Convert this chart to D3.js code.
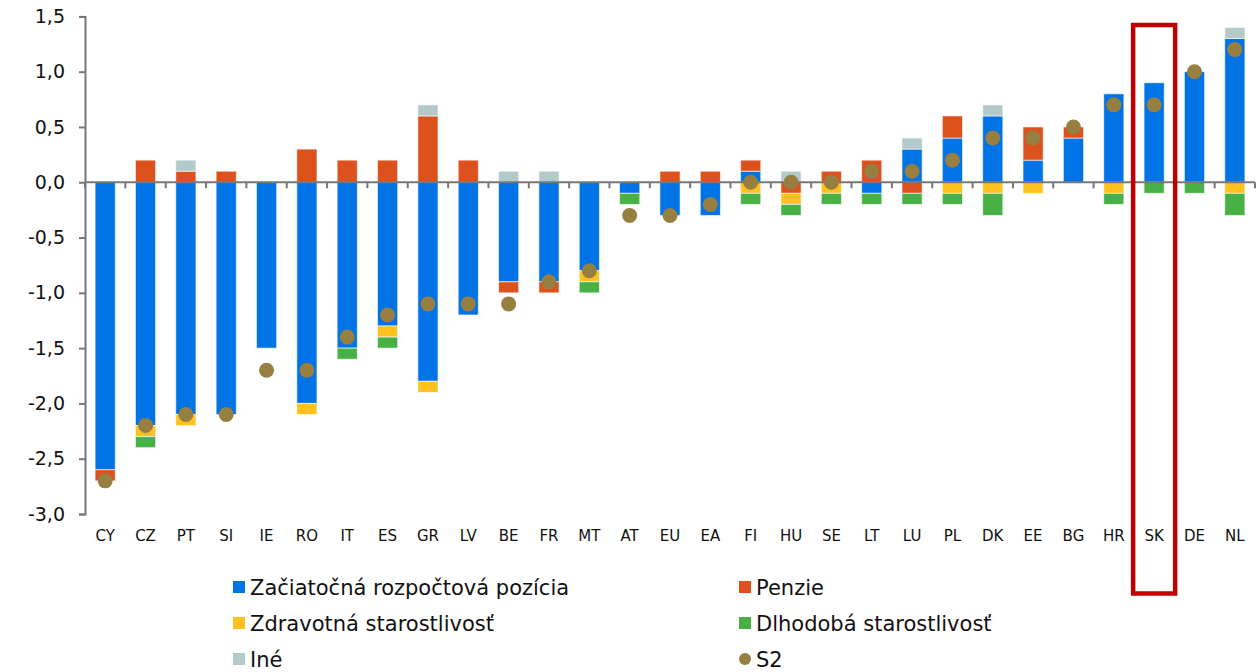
<!DOCTYPE html>
<html><head><meta charset="utf-8">
<script src="https://cdn.jsdelivr.net/npm/d3@7"></script>
<style>body{margin:0;background:#fff;} text{font-family:"DejaVu Sans",Verdana,sans-serif;}</style>
</head><body><svg id="c" width="1258" height="672"></svg>
<script>
const categories = ["CY","CZ","PT","SI","IE","RO","IT","ES","GR","LV","BE","FR","MT","AT","EU","EA","FI","HU","SE","LT","LU","PL","DK","EE","BG","HR","SK","DE","NL"];
const zaciatocna = [-2.6,-2.2,-2.1,-2.1,-1.5,-2.0,-1.5,-1.3,-1.8,-1.2,-0.9,-0.9,-0.8,-0.1,-0.3,-0.3,0.1,0,0,-0.1,0.3,0.4,0.6,0.2,0.4,0.8,0.9,1.0,1.3];
const penzie     = [-0.1,0.2,0.1,0.1,0,0.3,0.2,0.2,0.6,0.2,-0.1,-0.1,0,0,0.1,0.1,0.1,-0.1,0.1,0.2,-0.1,0.2,0,0.3,0.1,0,0,0,0];
const zdravotna  = [0,-0.1,-0.1,0,0,-0.1,0,-0.1,-0.1,0,0,0,-0.1,0,0,0,-0.1,-0.1,-0.1,0,0,-0.1,-0.1,-0.1,0,-0.1,0,0,-0.1];
const dlhodoba   = [0,-0.1,0,0,0,0,-0.1,-0.1,0,0,0,0,-0.1,-0.1,0,0,-0.1,-0.1,-0.1,-0.1,-0.1,-0.1,-0.2,0,0,-0.1,-0.1,-0.1,-0.2];
const ine        = [0,0,0.1,0,0,0,0,0,0.1,0,0.1,0.1,0,0,0,0,0,0.1,0,0,0.1,0,0.1,0,0,0,0,0,0.1];
const s2         = [-2.7,-2.2,-2.1,-2.1,-1.7,-1.7,-1.4,-1.2,-1.1,-1.1,-1.1,-0.9,-0.8,-0.3,-0.3,-0.2,0.0,0.0,0.0,0.1,0.1,0.2,0.4,0.4,0.5,0.7,0.7,1.0,1.2];
const yTicks = [1.5,1.0,0.5,0.0,-0.5,-1.0,-1.5,-2.0,-2.5,-3.0];
const seriesNames = ["Začiatočná rozpočtová pozícia","Penzie","Zdravotná starostlivosť","Dlhodobá starostlivosť","Iné"];
const s2Name = "S2";
const highlight = "SK";

const colors = ["#0073E6","#DD521C","#FFC11D","#47B146","#B3C9CA"];
const s2Color = "#977E41";
const series = [zaciatocna, penzie, zdravotna, dlhodoba, ine];

const svg = d3.select("#c");
const x = d3.scaleBand().domain(categories).range([85,1255]).paddingInner(0.5).paddingOuter(0.25);
const y = d3.scaleLinear().domain([-3,1.5]).range([514,16.4]);

// bars (excel-like stacking: positives up, negatives down)
const g = svg.append("g");
categories.forEach((c,i)=>{
  let pos=0, neg=0;
  series.forEach((s,k)=>{
    const v=s[i]; if(!v) return;
    let y0,y1;
    if(v>0){y0=pos;y1=pos+v;pos=y1;} else {y0=neg;y1=neg+v;neg=y1;}
    g.append("rect").attr("x",x(c)).attr("width",x.bandwidth())
     .attr("y",y(Math.max(y0,y1))).attr("height",Math.abs(y(y0)-y(y1)))
     .attr("fill",colors[k]).attr("stroke","rgba(255,255,255,0.6)").attr("stroke-width",1);
  });
});

// y axis
const ya = svg.append("g").attr("transform","translate(85,0)")
  .call(d3.axisLeft(y).tickValues(yTicks).tickSize(6).tickPadding(14).tickFormat(d=>d3.format(".1f")(d).replace(".",",").replace("−","-")));
ya.select(".domain").attr("stroke","#777").attr("stroke-width",2);
ya.selectAll(".tick line").attr("stroke","#777").attr("stroke-width",2);
ya.selectAll(".tick text").attr("font-size",19).attr("fill","#111").attr("font-family","DejaVu Sans");

// x axis at zero
const xa = svg.append("g").attr("transform",`translate(0,${y(0)})`);
xa.append("line").attr("x1",85).attr("x2",1255).attr("stroke","#777").attr("stroke-width",2);
d3.range(categories.length+1).forEach(k=>{
  const xx = 85 + k*(1170/categories.length);
  xa.append("line").attr("x1",xx).attr("x2",xx).attr("y1",0).attr("y2",6).attr("stroke","#777").attr("stroke-width",2);
});
svg.append("g").selectAll("text").data(categories).join("text")
  .attr("x",d=>x(d)+x.bandwidth()/2).attr("y",541).attr("text-anchor","middle")
  .attr("font-size",15).attr("fill","#111").text(d=>d);

// S2 points
svg.append("g").selectAll("circle").data(categories).join("circle")
  .attr("cx",d=>x(d)+x.bandwidth()/2).attr("cy",(d,i)=>y(s2[i])).attr("r",7.5).attr("fill",s2Color);

// highlight box
const hx = x(highlight)+x.bandwidth()/2;
svg.append("rect").attr("x",hx-21).attr("y",25).attr("width",42).attr("height",568.5)
  .attr("fill","none").attr("stroke","#C00000").attr("stroke-width",4.5);

// legend
const leg = [
  {n:seriesNames[0],c:colors[0],x:233,y:587},
  {n:seriesNames[1],c:colors[1],x:739,y:587},
  {n:seriesNames[2],c:colors[2],x:233,y:623},
  {n:seriesNames[3],c:colors[3],x:739,y:623},
  {n:seriesNames[4],c:colors[4],x:233,y:659},
  {n:s2Name,c:s2Color,x:739,y:659,dot:true}
];
const lg = svg.append("g");
leg.forEach(l=>{
  if(l.dot) lg.append("circle").attr("cx",l.x+6).attr("cy",l.y).attr("r",6).attr("fill",l.c);
  else lg.append("rect").attr("x",l.x).attr("y",l.y-6).attr("width",12).attr("height",12).attr("fill",l.c);
  lg.append("text").attr("x",l.x+17).attr("y",l.y+7.5).attr("font-size",21).attr("fill","#111").text(l.n);
});
</script></body></html>
